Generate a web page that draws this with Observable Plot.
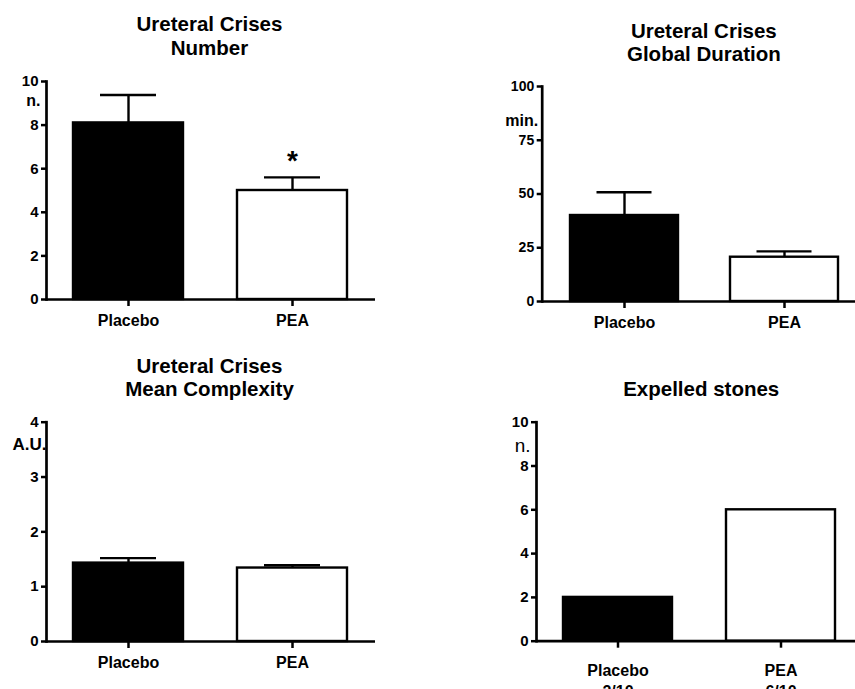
<!DOCTYPE html>
<html>
<head>
<meta charset="utf-8">
<script src="https://cdn.jsdelivr.net/npm/d3@7"></script>
<script src="https://cdn.jsdelivr.net/npm/@observablehq/plot@0.6"></script>
<style>
  html, body { margin: 0; padding: 0; background: white; }
  #page { width: 855px; height: 689px; overflow: hidden; background: white; }
</style>
</head>
<body>
<div id="page"></div>
<script>
// ---- data ----
const groups = ["Placebo", "PEA"];

const crisesNumber = [8.1, 5.0];
const crisesNumberSem = [1.28, 0.6];
const crisesNumberTicks = [0, 2, 4, 6, 8, 10];

const crisesDuration = [40.0, 20.6];
const crisesDurationSem = [10.8, 2.7];
const crisesDurationTicks = [0, 25, 50, 75, 100];

const crisesComplexity = [1.43, 1.34];
const crisesComplexitySem = [0.09, 0.05];
const crisesComplexityTicks = [0, 1, 2, 3, 4];

const expelledStones = [2, 6];
const expelledFractions = ["2/10", "6/10"];
const expelledTicks = [0, 2, 4, 6, 8, 10];

const significance = [{g: "PEA", mark: "*"}];

// ---- drawing ----
const FONT = "'Liberation Sans', Arial, Helvetica, sans-serif";
const root = d3.create("svg")
  .attr("width", 855).attr("height", 689)
  .attr("viewBox", "0 0 855 689")
  .style("display", "block").style("background", "white");
document.getElementById("page").appendChild(root.node());

function rowsOf(values, errs) {
  return groups.map((g, i) => ({g, v: values[i], e: errs ? errs[i] : null}));
}

function buildMarks(cfg, robust) {
  const rows = rowsOf(cfg.values, cfg.errs);
  const frameW = cfg.width - cfg.ml - cfg.mr;
  const frameH = cfg.height - cfg.mt - cfg.mb;
  const perPx = (cfg.yDomain[1] - cfg.yDomain[0]) / frameH;
  const marks = [
    Plot.barY(rows, {x: "g", y: "v", fill: "g", stroke: "black", strokeWidth: 2.4}),
  ];
  if (cfg.errs) {
    marks.push(
      Plot.ruleX(rows, {x: "g", y1: "v", y2: d => d.v + d.e, stroke: "black", strokeWidth: 2.4}),
      Plot.tickY(rows, {x: "g", y: d => d.v + d.e, stroke: "black", strokeWidth: 2.4,
        insetLeft: cfg.capInset, insetRight: cfg.capInset})
    );
  }
  if (cfg.stars) {
    const byG = new Map(rows.map(r => [r.g, r]));
    marks.push(Plot.text(cfg.stars, {x: "g", y: d => byG.get(d.g).v + byG.get(d.g).e,
      text: "mark", fontSize: 28, fontWeight: "bold", lineAnchor: "bottom", dy: -7, fill: "black"}));
  }
  marks.push(Plot.ruleY([0], {stroke: "black", strokeWidth: 2.7}));
  if (robust) {
    marks.push(
      Plot.frame({anchor: "left", stroke: "black", strokeWidth: 2.7}),
      Plot.tickY(cfg.yTicks, {y: d => d, insetLeft: -5, insetRight: frameW, stroke: "black", strokeWidth: 2.5}),
      Plot.ruleX(groups, {x: d => d, y1: 0, y2: -7 * perPx, stroke: "black", strokeWidth: 2.5}),
      Plot.axisY(cfg.yTicks, {tickSize: 0, tickPadding: 8, fontSize: cfg.tickFont, fontWeight: "bold",
        label: null, fill: "black", tickFormat: d => String(d)}),
      Plot.axisX({tickSize: 0, tickPadding: cfg.xPad + 7, fontSize: 16, fontWeight: "bold",
        label: null, fill: "black", lineHeight: 1.35, tickFormat: cfg.xFormat || (d => d)})
    );
  } else {
    marks.push(
      Plot.frame({anchor: "left", stroke: "black", strokeWidth: 2.7}),
      Plot.axisY(cfg.yTicks, {tickSize: 5, tickPadding: 3, fontSize: cfg.tickFont, fontWeight: "bold",
        strokeWidth: 2.5, label: null, fill: "black", stroke: "black", tickFormat: d => String(d)}),
      Plot.axisX({tickSize: 7, tickPadding: cfg.xPad, fontSize: 16, fontWeight: "bold", strokeWidth: 2.5,
        label: null, fill: "black", stroke: "black", lineHeight: 1.35, tickFormat: cfg.xFormat || (d => d)})
    );
  }
  marks.push(
    Plot.text([cfg.title], {text: d => d, frameAnchor: "top", dx: cfg.titleDx, dy: cfg.titleDy,
      lineAnchor: "bottom", fontSize: 20.5, fontWeight: "bold", lineHeight: 1.14, fill: "black"}),
    Plot.text([cfg.unit], {text: "t", y: "y", frameAnchor: "left", textAnchor: "end", dx: cfg.unitDx,
      fontSize: cfg.unitFont, fontWeight: cfg.unitWeight, fill: "black"})
  );
  return marks;
}

function panel(cfg) {
  const opts = (robust) => ({
    width: cfg.width, height: cfg.height,
    marginLeft: cfg.ml, marginRight: cfg.mr, marginTop: cfg.mt, marginBottom: cfg.mb,
    x: {domain: groups, range: cfg.xRange, paddingInner: cfg.pi, paddingOuter: cfg.pi / 2},
    y: {domain: cfg.yDomain},
    color: {domain: groups, range: ["black", "white"]},
    style: {fontFamily: FONT, color: "black", background: "transparent", overflow: "visible"},
    marks: buildMarks(cfg, robust)
  });
  let svg;
  try { svg = Plot.plot(opts(true)); } catch (e) { svg = Plot.plot(opts(false)); }
  svg.setAttribute("x", cfg.left);
  svg.setAttribute("y", cfg.top);
  svg.style.width = cfg.width + "px";
  svg.style.height = cfg.height + "px";
  svg.style.maxWidth = "none";
  root.node().appendChild(svg);
}

// Panel 1: crises number
panel({
  left: 0, top: 0, width: 430, height: 340,
  ml: 46, mr: 55, mt: 81, mb: 41,
  xRange: [45.5, 374.2], pi: 0.33,
  yDomain: [0, 10], yTicks: crisesNumberTicks, tickFont: 15,
  values: crisesNumber, errs: crisesNumberSem, capInset: 27,
  stars: significance,
  title: "Ureteral Crises\nNumber", titleDx: -1.5, titleDy: -26.7,
  unit: {t: "n.", y: 9.1}, unitDx: -6, unitFont: 16, unitWeight: "bold",
  xPad: 4
});

// Panel 2: global duration
panel({
  left: 430, top: 0, width: 425, height: 340,
  ml: 111.7, mr: 0, mt: 86, mb: 39,
  xRange: [112.6, 434], pi: 0.328,
  yDomain: [0, 100], yTicks: crisesDurationTicks, tickFont: 14,
  values: crisesDuration, errs: crisesDurationSem, capInset: 26.5,
  title: "Ureteral Crises\nGlobal Duration", titleDx: 5, titleDy: -25.3,
  unit: {t: "min.", y: 84.2}, unitDx: -4, unitFont: 16, unitWeight: "bold",
  xPad: 4
});

// Panel 3: mean complexity
panel({
  left: 0, top: 330, width: 430, height: 359,
  ml: 46, mr: 55, mt: 91.7, mb: 48,
  xRange: [45.5, 374.2], pi: 0.33,
  yDomain: [0, 4], yTicks: crisesComplexityTicks, tickFont: 15,
  values: crisesComplexity, errs: crisesComplexitySem, capInset: 27,
  title: "Ureteral Crises\nMean Complexity", titleDx: -1.5, titleDy: -26,
  unit: {t: "A.U.", y: 3.59}, unitDx: 0, unitFont: 17, unitWeight: "bold",
  xPad: 4
});

// Panel 4: expelled stones
panel({
  left: 430, top: 330, width: 425, height: 359,
  ml: 106, mr: 0, mt: 91.7, mb: 48.3,
  xRange: [105.6, 433.3], pi: 0.329,
  yDomain: [0, 10], yTicks: expelledTicks, tickFont: 15,
  values: expelledStones, errs: null,
  title: "Expelled stones", titleDx: 5.2, titleDy: -26,
  unit: {t: "n.", y: 8.94}, unitDx: -6, unitFont: 19, unitWeight: "normal",
  xPad: 12,
  xFormat: d => d + "\n" + expelledFractions[groups.indexOf(d)]
});
</script>
</body>
</html>
